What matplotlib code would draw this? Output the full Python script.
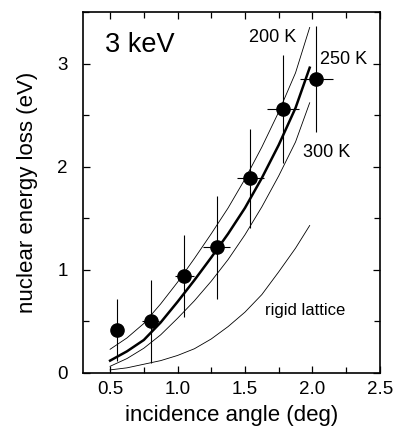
import numpy as np
from matplotlib import pyplot as plt
from matplotlib.ticker import MultipleLocator, FixedLocator, FixedFormatter

plt.rcParams['font.family'] = ['Liberation Sans', 'DejaVu Sans']

# measured points
angle = [0.55, 0.80, 1.05, 1.29, 1.54, 1.78, 2.03]
eloss = [0.42, 0.50, 0.94, 1.22, 1.89, 2.56, 2.85]
eloss_err = [0.30, 0.40, 0.40, 0.50, 0.48, 0.52, 0.51]
angle_err = [0.04, 0.06, 0.07, 0.10, 0.10, 0.12, 0.12]

# calculated curves
curve_x = [0.5, 0.625, 0.75, 0.875, 1.0, 1.125, 1.25, 1.375, 1.5, 1.625, 1.75, 1.875, 1.98]
curve_200K = [0.23, 0.34, 0.48, 0.67, 0.88, 1.11, 1.35, 1.60, 1.88, 2.19, 2.53, 2.91, 3.35]
curve_250K = [0.12, 0.21, 0.32, 0.49, 0.69, 0.90, 1.12, 1.35, 1.60, 1.89, 2.21, 2.57, 2.96]
curve_300K = [0.065, 0.14, 0.24, 0.37, 0.53, 0.70, 0.89, 1.10, 1.34, 1.61, 1.91, 2.24, 2.62]
curve_rigid = [0.03, 0.05, 0.085, 0.12, 0.17, 0.235, 0.33, 0.45, 0.59, 0.76, 0.98, 1.21, 1.43]

fig = plt.figure(figsize=(3.94, 4.36), dpi=100)
ax = fig.add_axes([0.211, 0.1445, 0.753, 0.828])

ax.plot(curve_x, curve_200K, color='black', lw=0.6)
ax.plot(curve_x, curve_300K, color='black', lw=0.6)
ax.plot(curve_x, curve_rigid, color='black', lw=0.6)
ax.plot(curve_x, curve_250K, color='black', lw=1.8)

ax.errorbar(angle, eloss, yerr=eloss_err, xerr=angle_err, fmt='o', color='black',
            ms=9.5, elinewidth=0.8, capsize=0)

ax.set_xlim(0.3, 2.5)
ax.set_ylim(0, 3.5)

ax.xaxis.set_major_locator(FixedLocator([0.5, 1.0, 1.5, 2.0, 2.5]))
ax.xaxis.set_major_formatter(FixedFormatter(['0.5', '1.0', '1.5', '2.0', '2.5']))
ax.xaxis.set_minor_locator(MultipleLocator(0.25))
ax.yaxis.set_major_locator(FixedLocator([0, 1, 2, 3]))
ax.yaxis.set_major_formatter(FixedFormatter(['0', '1', '2', '3']))
ax.yaxis.set_minor_locator(MultipleLocator(0.5))
ax.tick_params(which='both', direction='in', top=True, right=True, labelsize=13.5, width=0.9)
ax.tick_params(which='major', length=5)
ax.tick_params(which='minor', length=4)
ax.tick_params(axis='x', pad=6)
ax.tick_params(axis='y', pad=11)
for s in ax.spines.values():
    s.set_linewidth(1.2)

ax.set_xlabel('incidence angle (deg)', fontsize=16, labelpad=5)
ax.set_ylabel('nuclear energy loss (eV)', fontsize=16, labelpad=14)

ax.text(0.463, 3.18, '3 keV', fontsize=19.5, va='center')
ax.text(1.53, 3.25, '200 K', fontsize=13, va='center')
ax.text(2.056, 3.04, '250 K', fontsize=13, va='center')
ax.text(1.93, 2.14, '300 K', fontsize=13, va='center')
ax.text(1.65, 0.61, 'rigid lattice', fontsize=12, va='center')

fig.savefig('out.png', dpi=100)
